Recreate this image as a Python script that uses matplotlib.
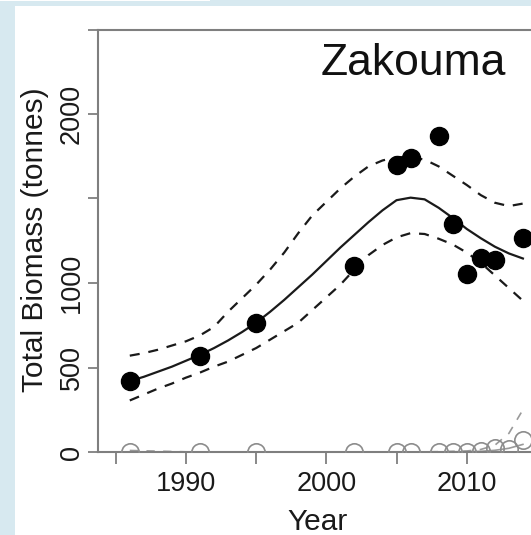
import matplotlib
matplotlib.use("Agg")
import matplotlib.pyplot as plt
from matplotlib.patches import Rectangle

# ---------------- data ----------------
years_obs = [1986, 1991, 1995, 2002, 2005, 2006, 2008, 2009, 2010, 2011, 2012, 2014]
biomass_obs = [422, 570, 762, 1100, 1700, 1742, 1870, 1350, 1051, 1146, 1134, 1267]

fit_years = list(range(1986, 2015))
fit_mean = [420, 445, 475, 505, 540, 575, 615, 660, 710, 765, 830, 900, 975, 1050,
            1130, 1210, 1285, 1360, 1430, 1490, 1505, 1495, 1445, 1385, 1320, 1265,
            1215, 1175, 1145]
fit_upper = [570, 585, 605, 630, 655, 690, 740, 830, 910, 990, 1080, 1180, 1295, 1400,
             1480, 1560, 1630, 1690, 1725, 1745, 1745, 1730, 1690, 1635, 1580, 1520,
             1475, 1455, 1470]
fit_lower = [305, 340, 375, 405, 440, 470, 505, 535, 575, 615, 665, 715, 765, 840,
             915, 990, 1080, 1165, 1225, 1270, 1295, 1290, 1262, 1228, 1180, 1120,
             1045, 970, 895]

other_years = [1986, 1991, 1995, 2002, 2005, 2006, 2008, 2009, 2010, 2011, 2012, 2013, 2014]
other_obs = [0, 0, 0, 0, 0, 0, 0, 0, 0, 5, 25, 20, 70]
other_fit_years = [1986, 1988, 1990, 1995, 2000, 2005, 2008, 2010, 2011, 2012, 2013, 2014]
other_fit_mean = [1, 1, 0, 0, 0, 0, 1, 2, 4, 10, 22, 45]
other_fit_upper = [9, 5, 1, 0, 0, 0, 2, 6, 15, 40, 110, 250]

x_ticks = [1985, 1990, 1995, 2000, 2005, 2010, 2015]
x_labels = ["", "1990", "", "2000", "", "2010", ""]
y_ticks = [0, 500, 1000, 1500, 2000, 2500]
y_labels = ["0", "500", "1000", "", "2000", ""]

# ---------------- figure ----------------
plt.rcParams["font.family"] = ["Liberation Sans", "DejaVu Sans"]

W, H = 531, 535
fig = plt.figure(figsize=(W / 100, H / 100), dpi=100)
fig.patch.set_facecolor("#d7e9f0")
panel = Rectangle((15 / W, 0), 1, (H - 6) / H, transform=fig.transFigure,
                  facecolor="white", edgecolor="none", zorder=-10)
fig.add_artist(panel)
strip = Rectangle((0, (H - 1.2) / H), 210 / W, 1.2 / H, transform=fig.transFigure,
                  facecolor="white", edgecolor="none", zorder=-10)
fig.add_artist(strip)

ax_left, ax_right_px = 97.5, 558.0
ax = fig.add_axes([ax_left / W, (H - 452) / H, (ax_right_px - ax_left) / W, (452 - 29.5) / H])
ax.set_zorder(5)
ax.set_facecolor("white")
ax.set_xlim(1983.70, 2016.5)
ax.set_ylim(0, 2500)

gray = "#7f7f7f"
for s in ["left", "top", "bottom", "right"]:
    ax.spines[s].set_color(gray)
    ax.spines[s].set_linewidth(1.5)

# other (grey) series
ax.plot(other_fit_years, other_fit_mean, color="#9a9a9a", lw=1.2, zorder=2)
ax.plot(other_fit_years, other_fit_upper, color="#9a9a9a", lw=1.2,
        linestyle=(0, (5, 5)), zorder=2)
ax.plot(other_years, other_obs, linestyle="none", marker="o", markersize=12.5,
        markerfacecolor="none", markeredgecolor="#8c8c8c", markeredgewidth=1.2, zorder=3)

# main fit
ax.plot(fit_years, fit_mean, color="#1a1a1a", lw=1.6, zorder=4)
ax.plot(fit_years, fit_upper, color="#1a1a1a", lw=1.6, linestyle=(0, (4.5, 4)), zorder=4)
ax.plot(fit_years, fit_lower, color="#1a1a1a", lw=1.6, linestyle=(0, (4.5, 4)), zorder=4)
ax.plot(years_obs, biomass_obs, linestyle="none", marker="o", markersize=13,
        markerfacecolor="black", markeredgecolor="black", zorder=5)

ax.set_xticks(x_ticks)
ax.set_xticklabels(x_labels)
ax.set_yticks(y_ticks)
ax.set_yticklabels(y_labels)
ax.tick_params(axis="x", length=8.5, width=1.3, color=gray, pad=5, labelsize=19.5,
               labelcolor="#1a1a1a")
ax.tick_params(axis="y", length=7.2, width=1.3, color=gray, pad=2, labelsize=19.5,
               labelcolor="#1a1a1a")
for lab in ax.get_yticklabels():
    lab.set_rotation(90)
    lab.set_va("center")

ax.text(2006.17, 2231, "Zakouma", ha="center", va="baseline", fontsize=32, color="#111111")

fig.text(35 / W, (H - 240) / H, "Total Biomass (tonnes)", rotation=90, ha="center",
         va="center", fontsize=21.5, color="#1a1a1a")
fig.text(318 / W, 5 / H, "Year", ha="center", va="baseline", fontsize=21.5, color="#1a1a1a")

fig.savefig("out.png", dpi=100, facecolor=fig.get_facecolor())
